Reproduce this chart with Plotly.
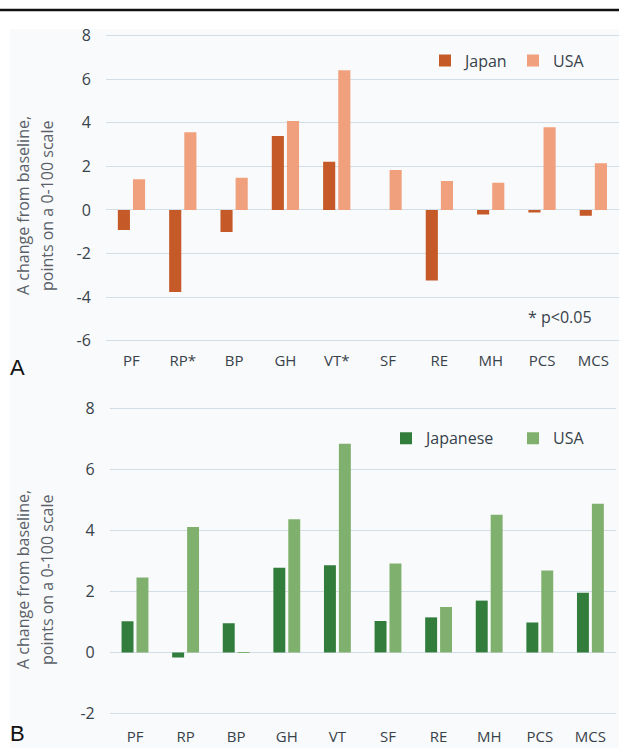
import plotly.graph_objects as go

categories_a = ["PF", "RP*", "BP", "GH", "VT*", "SF", "RE", "MH", "PCS", "MCS"]
japan_a = [-0.92, -3.77, -1.01, 3.39, 2.21, 0.0, -3.24, -0.21, -0.12, -0.27]
usa_a = [1.41, 3.56, 1.47, 4.08, 6.41, 1.83, 1.33, 1.25, 3.79, 2.14]

categories_b = ["PF", "RP", "BP", "GH", "VT", "SF", "RE", "MH", "PCS", "MCS"]
japanese_b = [1.02, -0.17, 0.96, 2.78, 2.86, 1.03, 1.15, 1.70, 0.98, 1.96]
usa_b = [2.46, 4.12, -0.02, 4.37, 6.85, 2.92, 1.49, 4.52, 2.69, 4.88]

ticks_a = [-6, -4, -2, 0, 2, 4, 6, 8]
ticklabels_a = ["-6", "-4", "-2", "0", "2", "4", "6", "8"]
ticks_b = [-2, 0, 2, 4, 6, 8]
ticklabels_b = ["-2", "0", "2", "4", "6", "8"]

title_line1 = "A change from baseline,"
title_line2 = "points on a 0-100 scale"

W, H = 619, 748
FONT = "Open Sans"
TXT = "#38424a"
TITLE_C = "#596067"
GRID = "#d3dde6"


def py(p):
    return 1 - p / H


def px(p):
    return p / W


fig = go.Figure()
fig.add_trace(go.Bar(x=categories_a, y=japan_a, name="Japan", marker_color="#c55a28",
                     marker_line_width=0, xaxis="x", yaxis="y", legend="legend"))
fig.add_trace(go.Bar(x=categories_a, y=usa_a, name="USA", marker_color="#f0a07d",
                     marker_line_width=0, xaxis="x", yaxis="y", legend="legend"))
fig.add_trace(go.Bar(x=categories_b, y=japanese_b, name="Japanese", marker_color="#327d3c",
                     marker_line_width=0, xaxis="x2", yaxis="y2", legend="legend2"))
fig.add_trace(go.Bar(x=categories_b, y=usa_b, name="USA", marker_color="#80b06e",
                     marker_line_width=0, xaxis="x2", yaxis="y2", legend="legend2"))

xfont = dict(family=FONT, size=15, color=TXT)
yfont = dict(family=FONT, size=16, color=TXT)

annotations = [
    dict(text="* p<0.05", xref="paper", yref="paper", x=px(560), y=py(316.7),
         xanchor="center", yanchor="middle", showarrow=False,
         font=dict(family=FONT, size=16, color=TXT)),
    dict(text="A", xref="paper", yref="paper", x=px(8), y=py(367), xanchor="left",
         yanchor="middle", showarrow=False,
         font=dict(family="Liberation Sans", size=22, color="#111111")),
    dict(text="B", xref="paper", yref="paper", x=px(8), y=0, xanchor="left",
         yanchor="bottom", showarrow=False,
         font=dict(family="Liberation Sans", size=22, color="#111111")),
]
for yc in (206, 580):
    for xc, t in ((23, title_line1), (47, title_line2)):
        annotations.append(dict(text=t, xref="paper", yref="paper", x=px(xc), y=py(yc),
                                xanchor="center", yanchor="middle", textangle=-90,
                                showarrow=False,
                                font=dict(family=FONT, size=16, color=TITLE_C)))

fig.update_layout(
    width=W, height=H,
    margin=dict(l=0, r=0, t=0, b=0, pad=0, autoexpand=False),
    paper_bgcolor="white",
    plot_bgcolor="rgba(0,0,0,0)",
    barmode="group",
    bargap=0.41,
    bargroupgap=0.2,
    font=dict(family=FONT, size=15, color=TXT),
    xaxis=dict(domain=[px(105.8), 1.0], range=[-0.5, 9.5], type="category",
               showgrid=False, zeroline=False, showline=False, ticks="", automargin=False,
               tickfont=xfont, ticklabelstandoff=6, anchor="y"),
    yaxis=dict(domain=[py(344.0), py(32.2)], range=[-6.15, 8.15],
               tickvals=ticks_a, ticktext=ticklabels_a, automargin=False,
               showgrid=True, gridcolor=GRID, gridwidth=1, zeroline=False, showline=False,
               ticks="", tickfont=yfont, ticklabelstandoff=14, anchor="x"),
    xaxis2=dict(domain=[px(109.7), px(615.7)], range=[-0.5, 9.5], type="category",
                showgrid=False, zeroline=False, showline=False, ticks="", automargin=False,
                tickfont=xfont, ticklabelstandoff=8, anchor="y2"),
    yaxis2=dict(domain=[py(717.9), py(404.1)], range=[-2.15, 8.15],
                tickvals=ticks_b, ticktext=ticklabels_b, automargin=False,
                showgrid=True, gridcolor=GRID, gridwidth=1, zeroline=False, showline=False,
                ticks="", tickfont=yfont, ticklabelstandoff=14, anchor="x2"),
    legend=dict(orientation="h", x=px(425), y=py(60.7), xanchor="left", yanchor="middle",
                bgcolor="rgba(0,0,0,0)", font=dict(family=FONT, size=16, color=TXT),
                itemwidth=30, entrywidth=43, tracegroupgap=0),
    legend2=dict(orientation="h", x=px(386), y=py(438.3), xanchor="left", yanchor="middle",
                 bgcolor="rgba(0,0,0,0)", font=dict(family=FONT, size=16, color=TXT),
                 itemwidth=30, entrywidth=82, tracegroupgap=0),
    shapes=[
        dict(type="rect", xref="paper", yref="paper", x0=px(10), x1=1.0, y0=0, y1=py(29),
             fillcolor="#f9fafc", line_width=0, layer="below"),
        dict(type="line", xref="paper", yref="paper", x0=0, x1=1, y0=py(10), y1=py(10),
             line=dict(color="#111111", width=2.5)),
    ],
    annotations=annotations,
)

fig.write_html(
    "out.html",
    config={"displayModeBar": False},
    post_script="document.body.style.margin='0';document.body.style.overflow='hidden';",
)
